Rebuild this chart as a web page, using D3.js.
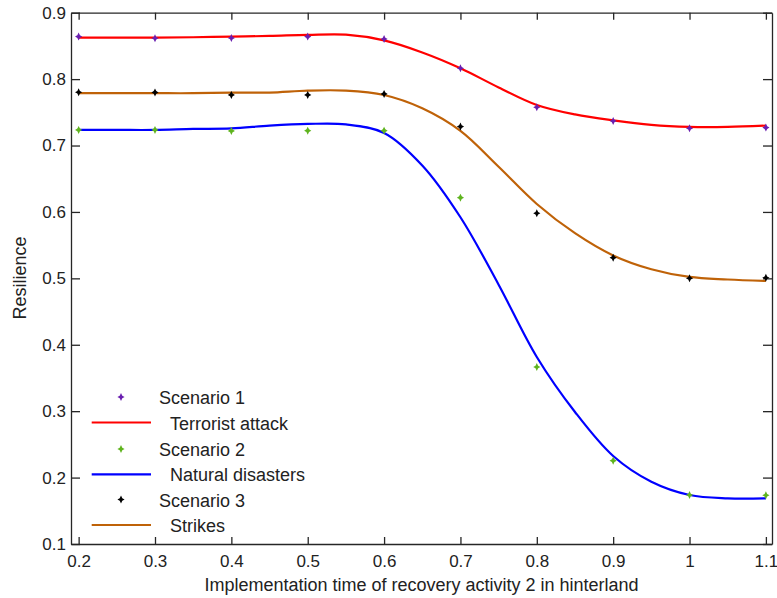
<!DOCTYPE html>
<html>
<head>
<meta charset="utf-8">
<script src="https://cdn.jsdelivr.net/npm/d3@7"></script>
<style>
  html, body { margin: 0; padding: 0; background: #ffffff; }
  svg { display: block; }
  text { font-family: "Liberation Sans", Arial, sans-serif; fill: #222; }
</style>
</head>
<body>
<svg id="chart" width="777" height="598"></svg>
<script>
// ---- data ----
const xTicks = [0.2, 0.3, 0.4, 0.5, 0.6, 0.7, 0.8, 0.9, 1, 1.1];
const yTicks = [0.1, 0.2, 0.3, 0.4, 0.5, 0.6, 0.7, 0.8, 0.9];

// scenario measurements (markers)
const pointX = [0.2, 0.3, 0.4, 0.5, 0.6, 0.7, 0.8, 0.9, 1.0, 1.1];
const scenario1 = [0.864, 0.8616, 0.862, 0.864, 0.8605, 0.8164, 0.7577, 0.737, 0.726, 0.727];
const scenario2 = [0.7235, 0.7235, 0.722, 0.7224, 0.7224, 0.6215, 0.3666, 0.2255, 0.1738, 0.1733];
const scenario3 = [0.7803, 0.780, 0.7762, 0.7762, 0.7777, 0.7285, 0.598, 0.5312, 0.5001, 0.501];

// fitted curves
const curveX = [0.2, 0.25, 0.3, 0.35, 0.4, 0.45, 0.5, 0.55, 0.6, 0.65, 0.7, 0.75, 0.8, 0.85, 0.9, 0.95, 1.0, 1.05, 1.1];
const terrorist = [0.8625, 0.8625, 0.8625, 0.863, 0.864, 0.865, 0.8666, 0.867, 0.8584, 0.8402, 0.8164, 0.7875, 0.7611, 0.7468, 0.7378, 0.731, 0.728, 0.728, 0.730];
const natural = [0.7235, 0.7235, 0.7235, 0.725, 0.7258, 0.730, 0.7325, 0.7318, 0.719, 0.670, 0.592, 0.4905, 0.3816, 0.2988, 0.2325, 0.1938, 0.1738, 0.1688, 0.1688];
const strikes = [0.7788, 0.7788, 0.7788, 0.7788, 0.7797, 0.7797, 0.7827, 0.7827, 0.776, 0.756, 0.722, 0.668, 0.612, 0.568, 0.5345, 0.5137, 0.5021, 0.4983, 0.496];

const legendLabels = ["Scenario 1", "Terrorist attack", "Scenario 2", "Natural disasters", "Scenario 3", "Strikes"];

// ---- layout ----
const svg = d3.select("#chart");
const plotLeft = 71, plotRight = 772, plotTop = 12.7, plotBottom = 544;

const x = d3.scaleLinear().domain([0.19, 1.108]).range([plotLeft, plotRight]);
const y = d3.scaleLinear().domain([0.1, 0.9]).range([plotBottom, plotTop]);

const axisColor = "#262626";

// star-like diamond marker
const starMarker = {
  draw(ctx, size) {
    const ry = 4, rx = 3.6, i = 1.3;
    ctx.moveTo(0, -ry);
    ctx.lineTo(i, -i);
    ctx.lineTo(rx, 0);
    ctx.lineTo(i, i);
    ctx.lineTo(0, ry);
    ctx.lineTo(-i, i);
    ctx.lineTo(-rx, 0);
    ctx.lineTo(-i, -i);
    ctx.closePath();
  }
};
const markerPath = d3.symbol().type(starMarker).size(1)();

// ---- axes ----
const fmt = d => String(d);

const gBottom = svg.append("g").attr("transform", `translate(0,${plotBottom})`)
  .call(d3.axisBottom(x).tickValues(xTicks).tickFormat(fmt).tickSize(-7).tickSizeOuter(0).tickPadding(11));
const gTop = svg.append("g").attr("transform", `translate(0,${plotTop})`)
  .call(d3.axisTop(x).tickValues(xTicks).tickFormat("").tickSize(-7).tickSizeOuter(0));
const gLeft = svg.append("g").attr("transform", `translate(${plotLeft},0)`)
  .call(d3.axisLeft(y).tickValues(yTicks).tickFormat(fmt).tickSize(-9).tickSizeOuter(0).tickPadding(5));
const gRight = svg.append("g").attr("transform", `translate(${plotRight},0)`)
  .call(d3.axisRight(y).tickValues(yTicks).tickFormat("").tickSize(-9).tickSizeOuter(0));

[gBottom, gTop, gLeft, gRight].forEach(g => {
  g.selectAll("path.domain").attr("stroke", axisColor).attr("stroke-width", 1.3);
  g.selectAll(".tick line").attr("stroke", axisColor).attr("stroke-width", 1.3);
  g.selectAll(".tick text").attr("fill", "#222").style("font-size", "17px")
    .style("font-family", '"Liberation Sans", Arial, sans-serif');
});

// axis titles
svg.append("text")
  .attr("x", (plotLeft + plotRight) / 2)
  .attr("y", 590.5)
  .attr("text-anchor", "middle")
  .style("font-size", "18px")
  .text("Implementation time of recovery activity 2 in hinterland");

svg.append("text")
  .attr("transform", "translate(26,278) rotate(-90)")
  .attr("text-anchor", "middle")
  .style("font-size", "18px")
  .text("Resilience");

// ---- curves ----
const lineGen = d3.line()
  .x((d, i) => x(curveX[i]))
  .y(d => y(d))
  .curve(d3.curveCatmullRom.alpha(0.5));

const curves = [
  { values: terrorist, color: "#ff0000" },
  { values: strikes, color: "#bf6208" },
  { values: natural, color: "#0000ff" }
];

const gPlot = svg.append("g");
curves.forEach(c => {
  gPlot.append("path")
    .attr("d", lineGen(c.values))
    .attr("fill", "none")
    .attr("stroke", c.color)
    .attr("stroke-width", 2.2);
});

// ---- markers ----
const scenarios = [
  { values: scenario1, color: "#6a1fb0" },
  { values: scenario2, color: "#5fb41e" },
  { values: scenario3, color: "#000000" }
];

scenarios.forEach(s => {
  gPlot.selectAll(null)
    .data(s.values)
    .enter()
    .append("path")
    .attr("d", markerPath)
    .attr("transform", (d, i) => `translate(${x(pointX[i])},${y(d)})`)
    .attr("fill", s.color);
});

// ---- legend ----
const legend = svg.append("g");
const rowY = [397, 422.5, 449, 474.3, 499.5, 525];
const legendItems = [
  { type: "marker", color: "#6a1fb0" },
  { type: "line", color: "#ff0000" },
  { type: "marker", color: "#5fb41e" },
  { type: "line", color: "#0000ff" },
  { type: "marker", color: "#000000" },
  { type: "line", color: "#bf6208" }
];

legendItems.forEach((it, i) => {
  const yy = rowY[i];
  if (it.type === "marker") {
    legend.append("path")
      .attr("d", markerPath)
      .attr("transform", `translate(121,${yy})`)
      .attr("fill", it.color);
    legend.append("text")
      .attr("x", 159)
      .attr("y", yy + 7)
      .style("font-size", "18px")
      .text(legendLabels[i]);
  } else {
    legend.append("line")
      .attr("x1", 91.7).attr("x2", 151)
      .attr("y1", yy).attr("y2", yy)
      .attr("stroke", it.color)
      .attr("stroke-width", 2.2);
    legend.append("text")
      .attr("x", 170)
      .attr("y", yy + 7)
      .style("font-size", "18px")
      .text(legendLabels[i]);
  }
});
</script>
</body>
</html>
